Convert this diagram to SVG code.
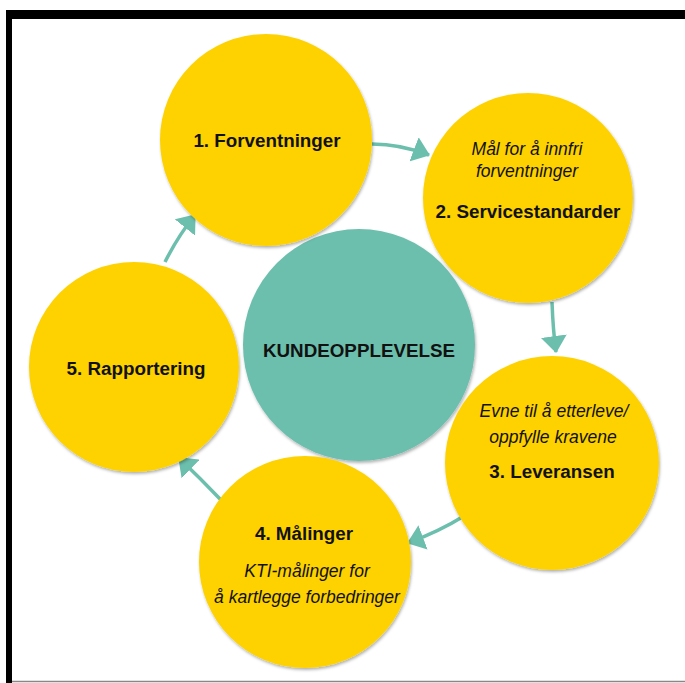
<svg xmlns="http://www.w3.org/2000/svg" width="685" height="683" viewBox="0 0 685 683">
  <style>
    .y { fill: #FED200; filter: url(#sh); }
    .c { fill: #6CBFAD; filter: url(#sh); }
    .b { font-family: "Liberation Sans", Arial, sans-serif; font-weight: bold; font-size: 18.8px; fill: #111; text-anchor: middle; }
    .i { font-family: "Liberation Sans", Arial, sans-serif; font-style: italic; font-size: 17.5px; fill: #111; text-anchor: middle; }
    .con { fill: none; stroke: #6CBFAD; stroke-width: 3.5; marker-end: url(#ah); }
  </style>
  <defs>
    <filter id="sh" x="-10%" y="-10%" width="120%" height="120%">
      <feDropShadow dx="1" dy="2" stdDeviation="1.5" flood-color="#000" flood-opacity="0.3"/>
    </filter>
    <marker id="ah" markerUnits="userSpaceOnUse" viewBox="0 0 17 26" refX="16" refY="13" markerWidth="17" markerHeight="26" orient="auto">
      <path d="M0,0 L17,13 L0,26 z" fill="#6CBFAD"/>
    </marker>
  </defs>
  <rect x="0" y="0" width="685" height="683" fill="#fff"/>
  <rect x="6" y="10" width="679" height="9" fill="#000"/>
  <rect x="6" y="10" width="6" height="673" fill="#000"/>
  <line x1="12" y1="681.5" x2="685" y2="681.5" stroke="#888" stroke-width="1.5"/>

  <g id="connectors">
    <path class="con" d="M 372 144 Q 400 144 429 155"/>
    <path class="con" d="M 552 302 Q 553 330 556 352"/>
    <path class="con" d="M 464 516 Q 440 531 408 543"/>
    <path class="con" d="M 221 500 Q 200 478 179 458"/>
    <path class="con" d="M 165 262 Q 178 236 195 215"/>
  </g>

  <g id="center">
    <circle class="c" cx="359" cy="345" r="116"/>
    <text class="b" x="359" y="357" font-size="19">KUNDEOPPLEVELSE</text>
  </g>
  <g id="n1">
    <circle class="y" cx="266" cy="140" r="106"/>
    <text class="b" x="267" y="147">1. Forventninger</text>
  </g>
  <g id="n2">
    <circle class="y" cx="528" cy="198" r="105"/>
    <text class="i" x="527" y="155">Mål for å innfri</text>
    <text class="i" x="527" y="177">forventninger</text>
    <text class="b" x="528" y="218">2. Servicestandarder</text>
  </g>
  <g id="n3">
    <circle class="y" cx="552" cy="463" r="107"/>
    <text class="i" x="554" y="417">Evne til å etterleve/</text>
    <text class="i" x="553" y="443">oppfylle kravene</text>
    <text class="b" x="552" y="478">3. Leveransen</text>
  </g>
  <g id="n4">
    <circle class="y" cx="305" cy="562" r="106"/>
    <text class="b" x="304" y="540">4. Målinger</text>
    <text class="i" x="307" y="577">KTI-målinger for</text>
    <text class="i" x="307" y="603">å kartlegge forbedringer</text>
  </g>
  <g id="n5">
    <circle class="y" cx="134" cy="367" r="105"/>
    <text class="b" x="136" y="375">5. Rapportering</text>
  </g>
</svg>
